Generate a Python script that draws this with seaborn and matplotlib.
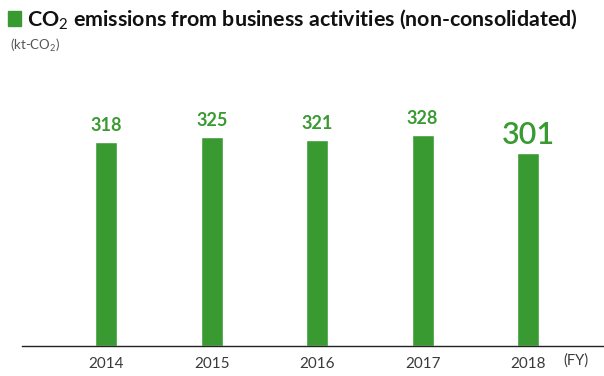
import matplotlib
matplotlib.use("Agg")
import matplotlib.pyplot as plt
import seaborn as sns
import pandas as pd
from matplotlib.patches import Rectangle

years = ["2014", "2015", "2016", "2017", "2018"]
values = [318, 325, 321, 328, 301]
title_text = "CO$_2$ emissions from business activities (non-consolidated)"
unit_text = "(kt-CO$_2$)"
fy_text = "(FY)"

GREEN = "#3a9a32"

sns.set_theme(style="white")
plt.rcParams['font.family'] = ['Lato', 'DejaVu Sans']
plt.rcParams['mathtext.fontset'] = 'custom'
plt.rcParams['mathtext.rm'] = 'Lato'
plt.rcParams['mathtext.it'] = 'Lato'
plt.rcParams['mathtext.bf'] = 'Lato:bold'

df = pd.DataFrame({"year": years, "value": values})

fig = plt.figure(figsize=(6.04, 3.76), dpi=100)
W, H = 604, 376
ax_left, ax_right, ax_bottom_px, ax_top_px = 22, 604, 346, 80
ax = fig.add_axes([ax_left / W, (H - ax_bottom_px) / H, (ax_right - ax_left) / W, (ax_bottom_px - ax_top_px) / H])

sns.barplot(data=df, x="year", y="value", color=GREEN, saturation=1, width=0.21, ax=ax)
ax.set_xlim(-0.8, 4.72)
ax.set_ylim(0, (ax_bottom_px - ax_top_px) / 0.642)

for s in ["top", "right", "left"]:
    ax.spines[s].set_visible(False)
ax.spines["bottom"].set_color("#222222")
ax.spines["bottom"].set_linewidth(1.0)
ax.set_yticks([])
ax.set_xlabel("")
ax.set_ylabel("")
ax.tick_params(axis="x", length=0, pad=8, labelsize=11, labelcolor="#3a3a3a")

for i, v in enumerate(values):
    if i == len(values) - 1:
        ax.annotate(str(v), (i, v), xytext=(0, 3), textcoords="offset points",
                    ha="center", va="bottom", fontsize=22, color=GREEN, fontweight="semibold")
    else:
        ax.annotate(str(v), (i, v), xytext=(0, 6), textcoords="offset points",
                    ha="center", va="bottom", fontsize=13, color=GREEN, fontweight="bold")

ax.text(4.33, -0.055, fy_text, transform=ax.get_xaxis_transform(), ha="left", va="center",
        fontsize=10.5, color="#3a3a3a")

fig.patches.append(Rectangle((8 / W, 1 - 26 / H), 13 / W, 15 / H, transform=fig.transFigure,
                             color=GREEN, zorder=5))
fig.text(27 / W, 1 - 19 / H, title_text, ha="left", va="center", fontsize=15.4,
         fontweight="bold", color="#111111")
fig.text(10 / W, 1 - 45 / H, unit_text, ha="left", va="center", fontsize=9.5, color="#555555")

fig.savefig("out.png", dpi=100)
